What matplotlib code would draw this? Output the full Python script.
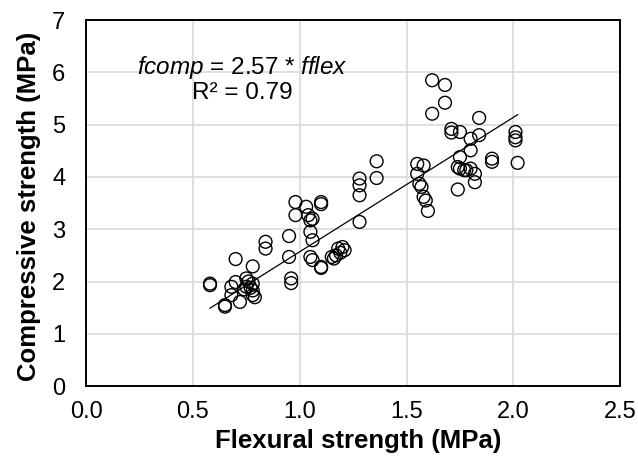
import matplotlib as mpl
mpl.use('Agg')
import matplotlib.pyplot as plt
import numpy as np

# flexural strength (MPa) and compressive strength (MPa)
flex = [0.58, 0.58, 0.65, 0.65, 0.68, 0.68, 0.70, 0.70, 0.72, 0.75,
        0.75, 0.78, 0.78, 0.78, 0.78, 0.77, 0.76, 0.74, 0.79, 0.84,
        0.84, 0.95, 0.95, 0.96, 0.96, 0.98, 0.98, 1.03, 1.04, 1.05,
        1.06, 1.05, 1.06, 1.05, 1.06, 1.10, 1.10, 1.10, 1.10, 1.15,
        1.16, 1.18, 1.19, 1.20, 1.21, 1.17, 1.28, 1.28, 1.28, 1.28,
        1.36, 1.36, 1.55, 1.55, 1.58, 1.56, 1.57, 1.58, 1.59, 1.60,
        1.62, 1.68, 1.68, 1.62, 1.71, 1.71, 1.75, 1.84, 1.80, 1.84,
        1.80, 1.75, 1.74, 1.75, 1.77, 1.78, 1.80, 1.82, 1.82, 1.74,
        1.90, 1.90, 2.01, 2.01, 2.01, 2.02]
comp = [1.96, 1.93, 1.55, 1.52, 1.90, 1.74, 2.43, 1.99, 1.61, 2.06,
        1.90, 2.29, 1.96, 1.83, 1.74, 1.88, 2.00, 1.85, 1.70, 2.76,
        2.63, 2.87, 2.47, 2.06, 1.97, 3.52, 3.27, 3.43, 3.27, 3.17,
        3.20, 2.95, 2.79, 2.47, 2.41, 2.28, 2.26, 3.52, 3.48, 2.47,
        2.44, 2.63, 2.55, 2.66, 2.60, 2.50, 3.97, 3.84, 3.65, 3.14,
        4.30, 3.98, 4.25, 4.06, 4.22, 3.87, 3.81, 3.62, 3.55, 3.35,
        5.85, 5.76, 5.42, 5.21, 4.92, 4.85, 4.86, 5.13, 4.73, 4.80,
        4.51, 4.38, 4.19, 4.16, 4.13, 4.13, 4.16, 4.06, 3.90, 3.76,
        4.35, 4.29, 4.86, 4.76, 4.70, 4.27]

slope = 2.57
r2 = 0.79

plt.rcParams['font.family'] = ['Liberation Sans', 'DejaVu Sans']
plt.rcParams['mathtext.fontset'] = 'custom'
plt.rcParams['mathtext.rm'] = 'Liberation Sans'
plt.rcParams['mathtext.it'] = 'Liberation Sans:italic'

fig = plt.figure(figsize=(6.38, 4.68), dpi=100)
ax = fig.add_axes([0.135, 0.175, 0.837, 0.782])

ax.scatter(flex, comp, s=85, facecolors='none', edgecolors='black',
           linewidths=1.0, zorder=3)

xl = np.array([min(flex), max(flex)])
ax.plot(xl, slope * xl, color='black', linewidth=0.9, zorder=4)

ax.set_xlim(0, 2.5)
ax.set_ylim(0, 7)
ax.set_xticks(np.arange(0, 2.51, 0.5))
ax.set_xticklabels(['%.1f' % v for v in np.arange(0, 2.51, 0.5)])
ax.set_yticks(range(0, 8))
ax.grid(True, color='#d9d9d9', linewidth=1.2, zorder=0)
ax.set_axisbelow(True)
ax.tick_params(length=0, labelsize=17)
ax.tick_params(axis='x', pad=11)
ax.tick_params(axis='y', pad=15)
for sp in ax.spines.values():
    sp.set_linewidth(1.4)
    sp.set_color('black')

ax.set_xlabel('Flexural strength (MPa)', fontsize=18.5, fontweight='bold')
ax.xaxis.label.set_va('top')
ax.xaxis.set_label_coords(0.51, -0.118)
ax.set_ylabel('Compressive strength (MPa)', fontsize=18.5, fontweight='bold')
ax.yaxis.label.set_va('center')
ax.yaxis.set_label_coords(-0.107, 0.49)

ax.text(0.24, 6.1, r'$\mathit{fcomp}$ = %.2f * $\mathit{fflex}$' % slope,
        fontsize=17.5, ha='left', va='center')
ax.text(0.497, 5.6, 'R² = %.2f' % r2, fontsize=17.5, ha='left', va='center')

fig.savefig('out.png', dpi=100)
